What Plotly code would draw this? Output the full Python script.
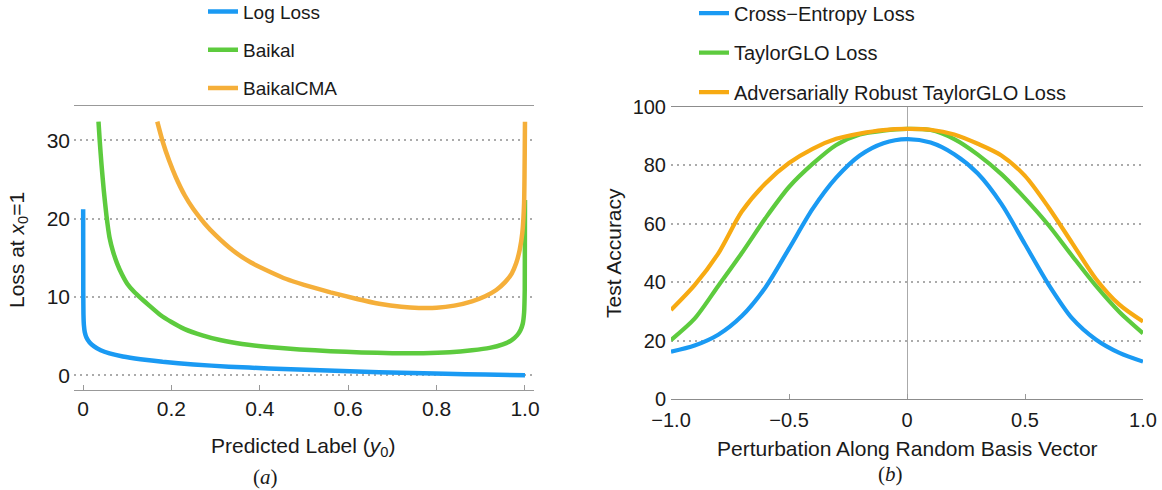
import plotly.graph_objects as go

W, H = 1162, 490

# ---------------- Panel (a): loss vs predicted label ----------------
log_x = [0.0003, 0.0006, 0.001, 0.002, 0.004, 0.008, 0.015, 0.025, 0.04, 0.06,
         0.09, 0.13, 0.18, 0.25, 0.33, 0.42, 0.52, 0.62, 0.72, 0.82, 0.91, 1.0]
log_y = [21.2, 10.5, 7.8, 6.4, 5.5, 4.8, 4.2, 3.7, 3.2, 2.8,
         2.4, 2.05, 1.72, 1.38, 1.1, 0.87, 0.66, 0.48, 0.33, 0.2, 0.09, 0.0]

baikal_x = [0.035, 0.038, 0.042, 0.047, 0.053, 0.06, 0.068, 0.077, 0.088, 0.1,
            0.115, 0.13, 0.15, 0.175, 0.2, 0.23, 0.27, 0.31, 0.36, 0.42,
            0.49, 0.56, 0.63, 0.7, 0.77, 0.83, 0.88, 0.92, 0.95, 0.97,
            0.982, 0.99, 0.995, 0.998, 0.9995, 1.0]
baikal_y = [32.4, 29.8, 26.8, 23.6, 20.4, 17.6, 15.8, 14.3, 12.9, 11.7,
            10.7, 9.9, 8.9, 7.7, 6.8, 5.9, 5.1, 4.5, 4.0, 3.62,
            3.3, 3.08, 2.92, 2.82, 2.82, 2.95, 3.2, 3.5, 3.95, 4.5,
            5.1, 5.8, 6.6, 8.0, 11.0, 22.4]

cma_x = [0.168, 0.18, 0.195, 0.21, 0.23, 0.25, 0.275, 0.3, 0.34, 0.38,
         0.42, 0.46, 0.5, 0.56, 0.62, 0.67, 0.72, 0.76, 0.8, 0.84,
         0.88, 0.91, 0.935, 0.955, 0.97, 0.98, 0.988, 0.994, 0.998, 1.0]
cma_y = [32.4, 29.9, 27.4, 25.3, 23.0, 21.2, 19.4, 17.9, 15.9, 14.4,
         13.3, 12.3, 11.56, 10.6, 9.75, 9.15, 8.75, 8.6, 8.62, 8.9,
         9.45, 10.1, 10.9, 11.9, 13.0, 14.3, 16.0, 18.2, 22.0, 32.4]

a_xticks = [0, 0.2, 0.4, 0.6, 0.8, 1.0]
a_xticktext = ["0", "0.2", "0.4", "0.6", "0.8", "1.0"]
a_yticks = [0, 10, 20, 30]

# ---------------- Panel (b): accuracy vs perturbation ----------------
pert_x = [-1.0, -0.9, -0.8, -0.7, -0.6, -0.5, -0.4, -0.3, -0.2, -0.1, 0.0,
          0.1, 0.2, 0.3, 0.4, 0.5, 0.6, 0.7, 0.8, 0.9, 1.0]
ce_acc = [16.2, 18.3, 22.0, 28.4, 38.2, 51.5, 65.1, 75.8, 83.4, 87.6, 89.0,
          87.8, 83.8, 77.2, 66.8, 53.0, 39.2, 27.6, 20.4, 15.8, 12.8]
tg_acc = [20.2, 27.5, 38.7, 50.0, 61.9, 72.6, 80.5, 87.0, 90.6, 91.9, 92.5,
          92.1, 89.0, 83.7, 77.0, 68.7, 59.5, 49.0, 38.8, 29.8, 22.5]
adv_acc = [30.5, 39.0, 49.8, 64.2, 73.8, 80.8, 85.7, 89.1, 90.9, 92.1, 92.5,
           92.2, 90.6, 87.4, 83.4, 76.4, 65.6, 53.4, 41.2, 32.3, 26.5]

b_xticks = [-1.0, -0.5, 0, 0.5, 1.0]
b_xticktext = ["\u22121.0", "\u22120.5", "0", "0.5", "1.0"]
b_yticks = [0, 20, 40, 60, 80, 100]

BLUE = "#1A9AF3"
GREEN = "#5DCB3E"
ORANGE_A = "#F5AF3A"
ORANGE_B = "#F7AA12"
FONT = "Liberation Sans, Arial, Helvetica, sans-serif"
TXT = "#1a1a1a"
AXC = "#999999"
GRID = "#ababab"
GRIDDASH = "2px,4px"

fig = go.Figure()

for name, xs, ys, col, g in [("Log Loss", log_x, log_y, BLUE, "a1"),
                             ("Baikal", baikal_x, baikal_y, GREEN, "a2"),
                             ("BaikalCMA", cma_x, cma_y, ORANGE_A, "a3")]:
    fig.add_trace(go.Scatter(x=xs, y=ys, mode="lines", name=name,
                             line=dict(color=col, width=4.5, shape="spline", smoothing=0.5),
                             xaxis="x", yaxis="y", legend="legend", legendgroup=g))

for name, ys, col, g in [("Cross\u2212Entropy Loss", ce_acc, BLUE, "b1"),
                         ("TaylorGLO Loss", tg_acc, GREEN, "b2"),
                         ("Adversarially Robust TaylorGLO Loss", adv_acc, ORANGE_B, "b3")]:
    fig.add_trace(go.Scatter(x=pert_x, y=ys, mode="lines", name=name,
                             line=dict(color=col, width=4.2, shape="spline", smoothing=0.8),
                             xaxis="x2", yaxis="y2", legend="legend2", legendgroup=g))

fig.update_layout(
    width=W, height=H, autosize=False,
    margin=dict(l=0, r=0, t=0, b=0, autoexpand=False),
    paper_bgcolor="white", plot_bgcolor="white",
    font=dict(family=FONT, color=TXT),
    xaxis=dict(domain=[74 / W, 534 / W], range=[-0.0204, 1.0204], anchor="y",
               automargin=False,
               showline=True, mirror=True, linecolor=AXC, linewidth=1.3,
               ticks="inside", ticklen=5, tickcolor=AXC, tickwidth=1,
               tickvals=a_xticks, ticktext=a_xticktext,
               showgrid=False, zeroline=False, tickfont=dict(size=21)),
    yaxis=dict(domain=[(H - 390) / H, (H - 106) / H], range=[-1.88, 34.4], anchor="x",
               automargin=False, ticklabelstandoff=3,
               showline=False, ticks="", tickvals=a_yticks,
               showgrid=True, gridcolor=GRID, griddash=GRIDDASH, gridwidth=1.5,
               zeroline=False, tickfont=dict(size=21)),
    xaxis2=dict(domain=[671 / W, 1143 / W], range=[-1, 1], anchor="y2",
                automargin=False, ticklabelstandoff=3,
                showline=True, mirror=True, linecolor="#8c8c8c", linewidth=1.3,
                ticks="inside", ticklen=5, tickcolor=AXC, tickwidth=1,
                tickvals=b_xticks, ticktext=b_xticktext,
                showgrid=False, zeroline=True, zerolinecolor="#aaaaaa", zerolinewidth=1,
                tickfont=dict(size=20)),
    yaxis2=dict(domain=[(H - 399) / H, (H - 107) / H], range=[0, 100], anchor="x2",
                automargin=False, ticklabelstandoff=4,
                showline=False, ticks="", tickvals=b_yticks,
                showgrid=True, gridcolor=GRID, griddash=GRIDDASH, gridwidth=1.5,
                zeroline=False, tickfont=dict(size=20)),
    legend=dict(x=203 / W, y=1.015, xanchor="left", yanchor="top",
                font=dict(size=19), tracegroupgap=10.5, bgcolor="rgba(0,0,0,0)"),
    legend2=dict(x=694 / W, y=1.013, xanchor="left", yanchor="top",
                 font=dict(size=20), tracegroupgap=10.5, bgcolor="rgba(0,0,0,0)"),
    showlegend=True,
)

ann = [
    dict(text="Predicted Label (<i>y</i><sub>0</sub>)", x=303 / W, y=(H - 447) / H,
         font=dict(size=21)),
    dict(text="Perturbation Along Random Basis Vector", x=907 / W, y=(H - 448) / H,
         font=dict(size=21)),
    dict(text="Loss at <i>x</i><sub>0</sub>=1", x=18 / W, y=(H - 250) / H,
         font=dict(size=21), textangle=-90),
    dict(text="Test Accuracy", x=613 / W, y=(H - 253) / H,
         font=dict(size=21), textangle=-90),
    dict(text="(<i>a</i>)", x=265 / W, y=(H - 477) / H,
         font=dict(size=21, family="Liberation Serif, Times New Roman, serif")),
    dict(text="(<i>b</i>)", x=890 / W, y=(H - 474) / H,
         font=dict(size=21, family="Liberation Serif, Times New Roman, serif")),
]
for a in ann:
    fig.add_annotation(xref="paper", yref="paper", showarrow=False,
                       xanchor="center", yanchor="middle", **a)

fig.write_html("out.html",
               config={"displayModeBar": False},
               post_script="document.body.style.margin='0';document.body.style.overflow='hidden';")
